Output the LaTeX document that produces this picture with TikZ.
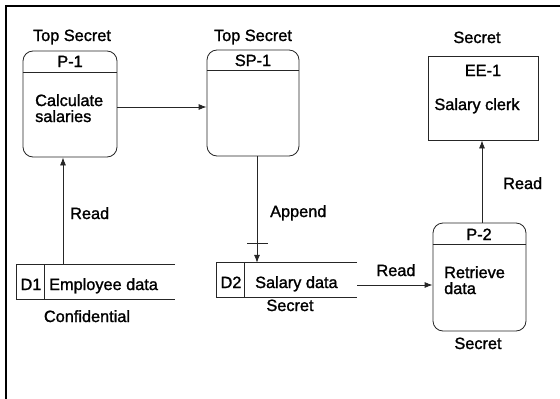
\documentclass[tikz,border=0pt]{standalone}
\usepackage{fontspec}
\setmainfont{Liberation Sans}
\newfontfamily\lblfont{Liberation Sans}[FakeBold=1.4]
\usetikzlibrary{arrows.meta,calc}

\tikzset{
  ln/.style={draw=black!85, line width=0.8pt},
  proc/.style={ln, rectangle, rounded corners=10pt, inner sep=0pt},
  ent/.style={ln, rectangle, inner sep=0pt},
  hole/.style={rectangle, inner sep=0pt},
  lbl/.style={inner sep=0pt, anchor=base, font=\lblfont\fontsize{16.3}{16}\selectfont},
  lbll/.style={lbl, anchor=base west},
  arr/.style={ln, -{Latex[length=8pt,width=6pt]}},
  frame/.style={draw=black, line width=2pt}
}

\begin{document}
\begin{tikzpicture}[x=1pt,y=-1pt]
\useasboundingbox (0,0) rectangle (560,399);

% outer frame (only top and left edges fall inside the page)
\coordinate (fbl) at (6,399);
\coordinate (ftl) at (6,6);
\coordinate (ftr) at (560,6);
\draw[frame] (fbl) -- (ftl) -- (ftr);

% process P-1
\node[proc, minimum width=94pt, minimum height=106pt] (p1) at (70,104) {};
\draw[ln] ($(p1.north west)+(0,22)$) -- ($(p1.north east)+(0,22)$);
\node[lbl] (p1id) at (70,67) {P-1};
\node[lbll] (p1a) at (35,106) {Calculate};
\node[lbll] (p1b) at (35,122) {salaries};
\node[lbl] (p1c) at (72,41) {Top Secret};

% process SP-1
\node[proc, minimum width=92pt, minimum height=106pt] (sp1) at (253,103) {};
\draw[ln] ($(sp1.north west)+(0,21)$) -- ($(sp1.north east)+(0,21)$);
\node[lbl] (sp1id) at (253,66) {SP-1};
\node[lbl] (sp1c) at (253,41) {Top Secret};

% external entity EE-1
\node[ent, minimum width=110pt, minimum height=84pt] (ee1) at (483,98) {};
\node[lbl] (ee1id) at (483,76) {EE-1};
\node[lbl] (ee1n) at (477,110) {Salary clerk};
\node[lbl] (ee1c) at (477,43) {Secret};

% process P-2
\node[proc, minimum width=93pt, minimum height=108pt] (p2) at (479.5,277) {};
\draw[ln] ($(p2.north west)+(0,22)$) -- ($(p2.north east)+(0,22)$);
\node[lbl] (p2id) at (479,240) {P-2};
\node[lbll] (p2a) at (444,278) {Retrieve};
\node[lbll] (p2b) at (444,294) {data};
\node[lbl] (p2c) at (478,349) {Secret};

% data store D1
\node[hole, minimum width=158pt, minimum height=34pt] (d1) at (96,282) {};
\draw[ln] (d1.north east) -- (d1.north west) -- (d1.south west) -- (d1.south east);
\draw[ln] ($(d1.north west)+(28,0)$) -- ($(d1.south west)+(28,0)$);
\node[lbl] (d1id) at (31,290) {D1};
\node[lbll] (d1n) at (49,290) {Employee data};
\node[lbl] (d1c) at (87,322) {Confidential};

% data store D2
\node[hole, minimum width=140pt, minimum height=34pt] (d2) at (287,280) {};
\draw[ln] (d2.north east) -- (d2.north west) -- (d2.south west) -- (d2.south east);
\draw[ln] ($(d2.north west)+(28,0)$) -- ($(d2.south west)+(28,0)$);
\node[lbl] (d2id) at (231,288) {D2};
\node[lbll] (d2n) at (255,288) {Salary data};
\node[lbl] (d2c) at (290,311) {Secret};

% flows
\coordinate (xa) at (63,0);
\coordinate (xb) at (257,0);
\coordinate (xc) at (482,0);
\coordinate (yd) at (0,285);

\draw[arr] (p1.east |- 0,107) -- (sp1.west |- 0,107);

\draw[arr] (d1.north -| xa) -- (p1.south -| xa);
\node[lbll] (r1) at (70,219) {Read};

\draw[arr] (sp1.south -| xb) -- (d2.north -| xb);
\coordinate (tka) at (247,243);
\coordinate (tkb) at (268,243);
\draw[ln] (tka) -- (tkb);
\node[lbll] (ap) at (270,217) {Append};

\draw[arr] (d2.east |- yd) -- (p2.west |- yd);
\node[lbl] (r2) at (396,276) {Read};

\draw[arr] (p2.north -| xc) -- (ee1.south -| xc);
\node[lbll] (r3) at (503,189) {Read};

\end{tikzpicture}
\end{document}
